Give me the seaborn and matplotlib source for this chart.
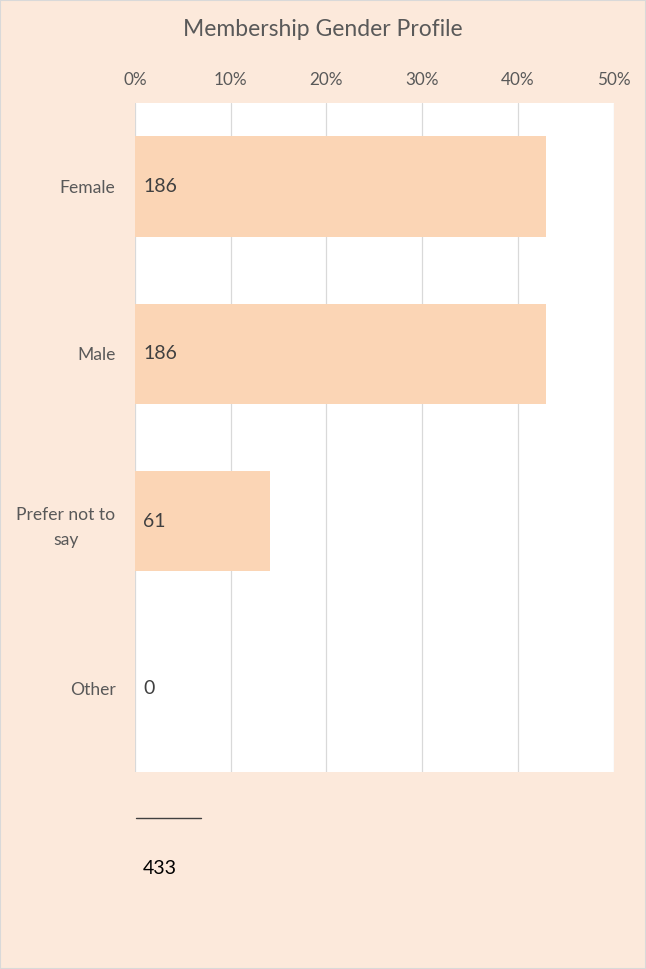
import numpy as np
import pandas as pd
import matplotlib.pyplot as plt
import seaborn as sns
from matplotlib.lines import Line2D
from matplotlib.patches import Rectangle

# --- data ---
categories = ['Female', 'Male', 'Prefer not to\nsay', 'Other']
counts = [186, 186, 61, 0]
total = 433
x_ticks = [0, 0.1, 0.2, 0.3, 0.4, 0.5]
x_tick_labels = ['0%', '10%', '20%', '30%', '40%', '50%']

df = pd.DataFrame({'Gender': categories, 'Count': counts})
df['Share'] = df['Count'] / total

bg = '#FCE9DB'
bar_col = '#FBD5B5'
txt = '#595959'

sns.set_theme(style='white')
plt.rcParams['font.family'] = ['Lato', 'DejaVu Sans']

fig = plt.figure(figsize=(6.46, 9.69), dpi=100, facecolor=bg)
ax = fig.add_axes([0.209, 0.2033, 0.741, 0.6904])
ax.set_facecolor('white')

sns.barplot(data=df, x='Share', y='Gender', orient='h', color=bar_col,
            width=0.6, saturation=1, linewidth=0, edgecolor='none', ax=ax, zorder=2)

ax.set_xlim(0, 0.5)
ax.set_xticks(x_ticks)
ax.set_xticklabels(x_tick_labels)
ax.xaxis.tick_top()
ax.tick_params(axis='x', length=0, pad=11, labelsize=12.3, colors=txt)
ax.tick_params(axis='y', length=0, pad=14, labelsize=12.6, colors=txt)
for lab in ax.get_yticklabels():
    lab.set_multialignment('center')
    lab.set_linespacing(1.7)
ax.grid(axis='x', color='#D9D9D9', linewidth=0.9, zorder=0)
ax.set_axisbelow(True)
for s in ax.spines.values():
    s.set_visible(False)
ax.set_xlabel('')
ax.set_ylabel('')

# count labels inside bars
for i, c in enumerate(counts):
    ax.annotate(str(c), (0, i), xytext=(6, 0), textcoords='offset points',
                ha='left', va='center', fontsize=14, color='#404040')

fig.text(0.5, 1 - 29 / 969, 'Membership Gender Profile', ha='center', va='center',
         fontsize=16.5, color=txt)

# total line and value below the chart
fig.add_artist(Line2D([136 / 646, 201 / 646], [1 - 818 / 969, 1 - 818 / 969],
                      color='#404040', linewidth=1.0))
fig.text(143 / 646, 1 - 869 / 969, str(total), ha='left', va='center',
         fontsize=14, color='black')

fig.add_artist(Rectangle((0, 0), 1, 1, transform=fig.transFigure, fill=False,
                         edgecolor='#D9D9D9', linewidth=1.5))

plt.savefig('out.png', dpi=100, facecolor=bg)
plt.close()
